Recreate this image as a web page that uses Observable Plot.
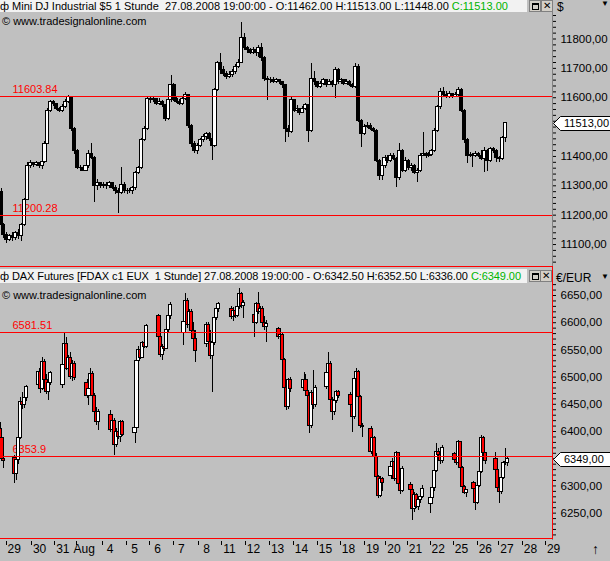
<!DOCTYPE html>
<html><head><meta charset="utf-8">
<script src="https://cdn.jsdelivr.net/npm/d3@7"></script>
<script src="https://cdn.jsdelivr.net/npm/@observablehq/plot@0.6"></script>
<style>
html,body{margin:0;padding:0;}
body{background:#c0c0c0;width:610px;height:561px;overflow:hidden;position:relative;font-family:"Liberation Sans",Arial,sans-serif;color:#000;}
.abs{position:absolute;}
.hdr{position:absolute;left:0;width:527px;background:#f2f2f2;font-size:11px;white-space:pre;overflow:hidden;}
.wm{position:absolute;left:2px;font-size:11px;white-space:pre;}
.btn{position:absolute;width:10px;height:10px;background:#d4d0c8;border:1px solid #808080;font-size:10px;line-height:10px;text-align:center;}
.sq{position:absolute;left:2px;top:2px;width:5px;height:4px;border:1px solid #000;border-top-width:2px;}
.tag{position:absolute;left:552px;width:58px;height:17px;overflow:hidden;}
</style></head>
<body>
<div id="topPlot" class="abs" style="left:0;top:0"></div>
<div id="botPlot" class="abs" style="left:0;top:268px"></div>

<!-- chart chrome -->
<div class="abs" style="left:552px;top:0;width:1px;height:540px;background:#808080"></div>
<div class="abs" style="left:-1px;top:266px;width:552px;height:271px;border:1px solid #ff0000;"></div>

<div class="hdr" style="top:0;height:12px;line-height:12px;">ф Mini DJ Industrial $5 1 Stunde  27.08.2008 19:00:00 - O:11462.00 H:11513.00 L:11448.00 <span style="color:#00b400">C:11513.00</span></div>
<div class="btn" style="left:529px;top:0"><div class="sq"></div></div>
<div class="btn" style="left:541px;top:0">✕</div>
<div class="wm" style="top:15px">© www.tradesignalonline.com</div>
<div class="abs" style="left:557px;top:0;font-size:12px">$</div>
<div class="abs" style="left:601px;top:0;font-size:8px;line-height:8px">▼</div>

<div class="hdr" style="top:269px;height:14px;line-height:14px;letter-spacing:-0.08px;">ф DAX Futures [FDAX c1 EUX  1 Stunde] 27.08.2008 19:00:00 - O:6342.50 H:6352.50 L:6336.00 <span style="color:#00b400">C:6349.00</span></div>
<div class="btn" style="left:529px;top:270px"><div class="sq"></div></div>
<div class="btn" style="left:540px;top:270px">✕</div>
<div class="wm" style="top:289px">© www.tradesignalonline.com</div>
<div class="abs" style="left:556px;top:271px;font-size:12px">€/EUR</div>
<div class="abs" style="left:601px;top:273px;font-size:8px;line-height:8px">▼</div>
<div class="abs" style="left:592px;top:541px;font-size:14px">↑</div>

<script>
// ---------- shared time axis (trading days, weekends removed) ----------
const dayLabels = ["29","30","31","Aug","4","5","6","7","8","11","12","13","14","15","18","19","20","21","22","25","26","27","28","29"];
const dayTickPos = [-0.01,1.07,2.06,2.97,4.08,5.12,6.10,7.12,8.19,9.17,10.19,11.22,12.24,13.26,14.24,15.27,16.18,17.10,18.07,19.06,20.08,21.00,22.00,22.99];
const xDomain = [-0.256, 23.284];

// ---------- Mini DJ Industrial (3-hour steps, open = previous close) ----------
const djFirstOpen = 11280;
const djStartT = -0.234;
const djStepT = 0.125;
const djClose = [
11165,11131,11114,11128,11121,11138,11128,11165,11250,11369,
11376,11372,11376,11366,11380,11444,11556,11587,11577,11563,
11556,11570,11587,11601,11495,11420,11362,11359,11352,11366,
11410,11396,11301,11308,11298,11304,11298,11308,11294,11284,
11277,11304,11284,11281,11284,11291,11345,11359,11455,11495,
11597,11591,11594,11580,11587,11574,11529,11591,11642,11594,
11587,11580,11597,11608,11505,11444,11420,11437,11455,11465,
11475,11461,11437,11625,11717,11693,11682,11672,11676,11686,
11706,11720,11802,11768,11761,11754,11761,11751,11771,11734,
11665,11659,11662,11655,11659,11652,11642,11495,11482,11591,
11556,11563,11549,11563,11574,11488,11665,11652,11638,11648,
11659,11645,11655,11642,11693,11652,11659,11648,11655,11645,
11638,11706,11522,11478,11502,11505,11495,11488,11386,11335,
11369,11396,11386,11403,11393,11325,11420,11352,11386,11359,
11369,11345,11352,11403,11410,11400,11406,11420,11488,11567,
11618,11608,11604,11614,11604,11611,11625,11556,11455,11400,
11406,11400,11410,11403,11393,11420,11386,11427,11420,11396,
11393,11462,11513];
const djHigh = [
11290,11170,11140,11135,11140,11145,11150,11170,11258,11380,
11385,11380,11382,11378,11385,11450,11565,11592,11592,11580,
11568,11578,11595,11608,11605,11500,11425,11368,11365,11372,
11420,11444,11400,11320,11312,11312,11310,11315,11312,11300,
11290,11362,11310,11290,11292,11298,11350,11366,11460,11502,
11605,11604,11602,11598,11598,11592,11578,11597,11676,11648,
11600,11595,11604,11618,11612,11510,11450,11445,11462,11475,
11482,11480,11478,11632,11725,11750,11705,11688,11688,11695,
11712,11730,11857,11818,11775,11768,11770,11765,11778,11785,
11740,11672,11670,11668,11665,11662,11656,11645,11505,11601,
11595,11572,11565,11570,11580,11578,11717,11690,11655,11655,
11665,11662,11662,11660,11703,11698,11666,11662,11662,11660,
11650,11717,11712,11525,11510,11515,11512,11500,11492,11390,
11375,11403,11402,11410,11410,11398,11444,11425,11395,11390,
11375,11372,11360,11410,11482,11415,11412,11425,11495,11575,
11630,11635,11620,11622,11615,11618,11635,11630,11560,11460,
11412,11410,11416,11412,11420,11430,11425,11432,11430,11425,
11400,11468,11513];
const djLow = [
11155,11120,11105,11110,11112,11115,11118,11110,11160,11250,
11360,11362,11365,11358,11355,11375,11440,11550,11570,11555,
11548,11550,11565,11580,11485,11405,11355,11350,11348,11350,
11360,11390,11243,11285,11290,11292,11288,11290,11286,11270,
11205,11270,11275,11272,11275,11270,11285,11340,11355,11450,
11490,11582,11585,11572,11575,11566,11520,11522,11585,11588,
11580,11574,11575,11590,11495,11430,11410,11405,11430,11448,
11455,11450,11386,11430,11620,11680,11672,11663,11665,11668,
11680,11698,11715,11760,11752,11746,11748,11742,11738,11725,
11655,11590,11650,11648,11648,11645,11630,11448,11465,11478,
11548,11550,11540,11545,11555,11448,11480,11640,11630,11632,
11640,11636,11640,11635,11597,11645,11650,11642,11644,11638,
11630,11630,11515,11431,11470,11495,11488,11480,11378,11318,
11318,11360,11376,11380,11385,11294,11318,11345,11345,11352,
11348,11338,11311,11345,11400,11392,11395,11400,11415,11482,
11560,11600,11598,11597,11597,11600,11605,11548,11445,11376,
11395,11362,11396,11395,11386,11345,11350,11380,11410,11380,
11378,11385,11448];
const djLevels = [11603.84, 11200.28];
const djLast = 11513;
const djYDomain = [11038.8, 11890.3];

// ---------- DAX Futures (2-hour steps within each session) ----------
const daxSessionStart = [-0.277,0.362,1.386,2.409,3.433,4.456,5.480,6.503,7.569,8.550,9.616,10.597,11.620,12.687,13.667,14.691,15.544,16.397,17.249,18.102,19.126,19.936,20.874];
const daxSessionBars = [3,7,7,7,7,7,7,7,7,7,7,7,7,7,7,7,7,7,7,7,7,7,7];
const daxStepT = 2/24;
const daxOpen = [
6405,6388,6350,
6352,6322,6348,6388,6455,6448,6462,
6485,6510,6478,6528,6495,6472,6490,
6485,6522,6560,6515,6535,6500,6525,
6490,6465,6478,6505,6465,6435,6418,
6430,6402,6420,6375,6400,6390,6417,
6398,6406,6530,6550,6536,6562,6555,
6612,6574,6540,6556,6552,6586,6612,
6582,6602,6640,6595,6620,6585,6570,
6560,6596,6565,6538,6562,6608,6626,
6625,6610,6622,6612,6628,6652,6630,
6615,6600,6635,6620,6625,6600,6592,
6588,6574,6578,6532,6480,6446,6494,
6480,6495,6474,6466,6410,6470,6448,
6482,6508,6525,6458,6435,6456,6472,
6468,6448,6426,6496,6510,6464,6410,
6405,6362,6388,6354,6316,6282,6312,
6318,6334,6344,6312,6360,6304,6290,
6302,6292,6258,6284,6262,6274,6280,
6266,6277,6297,6327,6362,6356,6345,
6358,6348,6342,6380,6333,6298,6287,
6305,6295,6268,6300,6326,6388,6360,
6350,6330,6296,6288,6315,6342,6342.5];
const daxHigh = [
6417,6392,6362,
6356,6352,6392,6462,6472,6466,6485,
6516,6518,6536,6532,6505,6500,6510,
6528,6580,6572,6540,6545,6530,6528,
6495,6482,6516,6510,6470,6445,6440,
6439,6425,6424,6405,6410,6420,6420,
6410,6535,6556,6555,6566,6568,6597,
6616,6578,6560,6568,6590,6618,6638,
6606,6654,6645,6625,6624,6600,6586,
6600,6600,6586,6566,6612,6630,6638,
6630,6628,6626,6632,6663,6656,6640,
6622,6638,6656,6630,6630,6612,6604,
6591,6582,6580,6535,6485,6498,6500,
6509,6504,6488,6470,6475,6512,6485,
6512,6545,6528,6462,6460,6476,6475,
6472,6452,6500,6516,6512,6466,6414,
6410,6392,6390,6360,6320,6318,6316,
6338,6350,6346,6364,6362,6318,6336,
6306,6296,6288,6286,6278,6284,6300,
6280,6300,6330,6378,6368,6360,6374,
6362,6352,6384,6382,6336,6300,6294,
6308,6298,6302,6330,6393,6390,6362,
6362,6332,6298,6318,6345,6369,6352.5];
const daxLow = [
6385,6345,6332,
6304,6310,6340,6385,6440,6442,6455,
6480,6470,6475,6490,6468,6457,6485,
6480,6510,6512,6505,6495,6492,6494,
6460,6448,6470,6460,6430,6412,6402,
6398,6395,6356,6370,6385,6380,6390,
6378,6400,6528,6532,6534,6552,6552,
6570,6536,6530,6548,6550,6582,6605,
6558,6598,6590,6585,6580,6565,6527,
6555,6560,6532,6472,6558,6604,6618,
6605,6602,6608,6610,6625,6626,6608,
6573,6596,6615,6600,6598,6586,6564,
6570,6560,6528,6476,6439,6440,6472,
6476,6470,6462,6396,6405,6440,6445,
6478,6505,6455,6420,6430,6452,6460,
6445,6398,6422,6470,6460,6406,6389,
6358,6356,6350,6312,6276,6278,6290,
6312,6326,6308,6308,6300,6285,6288,
6288,6236,6252,6258,6255,6268,6276,
6249,6272,6290,6325,6352,6340,6342,
6345,6338,6340,6330,6296,6284,6279,
6292,6255,6265,6298,6322,6358,6340,
6326,6294,6268,6284,6312,6338,6336];
const daxClose = [
6388,6350,6345,
6322,6348,6388,6455,6448,6462,6481,
6510,6478,6528,6495,6472,6490,6507,
6522,6560,6515,6535,6500,6525,6498,
6465,6478,6505,6465,6435,6418,6436,
6402,6420,6375,6400,6390,6417,6393,
6406,6530,6550,6536,6562,6555,6594,
6574,6540,6556,6552,6586,6612,6632,
6602,6640,6595,6620,6585,6570,6548,
6596,6565,6538,6562,6608,6626,6634,
6610,6622,6612,6628,6652,6630,6636,
6600,6635,6620,6625,6600,6592,6598,
6574,6578,6532,6480,6446,6494,6478,
6495,6474,6466,6410,6470,6448,6480,
6508,6525,6458,6435,6456,6472,6466,
6448,6426,6496,6510,6464,6410,6408,
6362,6388,6354,6316,6282,6312,6306,
6334,6344,6312,6360,6304,6290,6332,
6292,6258,6284,6262,6274,6280,6294,
6277,6297,6327,6362,6356,6345,6370,
6348,6342,6380,6333,6298,6287,6292,
6295,6268,6300,6326,6388,6360,6346,
6330,6296,6288,6315,6342,6344,6349];
const daxLevels = [6581.51, 6353.9];
const daxLast = 6349;
const daxYDomain = [6203.4, 6673.9];

// ---------- build tables ----------
const dj = djClose.map((c, i) => ({t: djStartT + i * djStepT, o: i ? djClose[i - 1] : djFirstOpen, h: djHigh[i], l: djLow[i], c}));
const dax = [];
{ let k = 0;
  daxSessionStart.forEach((s, si) => {
    for (let j = 0; j < daxSessionBars[si]; j++, k++)
      dax.push({t: s + j * daxStepT, o: daxOpen[k], h: daxHigh[k], l: daxLow[k], c: daxClose[k]});
  });
}

const fmt = d => d.toFixed(2).replace(".", ",");
const FONT = "Liberation Sans, Arial, sans-serif";
const hw = 0.066; // half candle width in days

// y-axis tick label, hidden where the current-price tag covers it
const yLabel = (step, last, span) => d => (d % step === 0 && Math.abs(d - last) > span ? fmt(d) : "");

// current-price tag, placed with the chart's own y scale
function priceTag(plot, value, panelTop) {
  const y = Math.round(plot.scale("y").apply(value)) + panelTop;
  const div = document.createElement("div");
  div.className = "tag";
  div.style.top = (y - 8) + "px";
  document.body.appendChild(div);
  const s = d3.select(div).append("svg").attr("width", 58).attr("height", 17);
  s.append("path")
    .attr("d", "M1.5,8.5 L8.5,1.5 L60,1.5 L60,15.5 L8.5,15.5 Z")
    .attr("fill", "white").attr("stroke", "black").attr("stroke-width", 1);
  s.append("text").attr("x", 12).attr("y", 8.5).attr("dy", "0.36em")
    .attr("font-size", "11px").attr("font-family", FONT).attr("fill", "black").text(fmt(value));
}

// ---------- top panel ----------
const topChart = Plot.plot({
  width: 610, height: 264,
  marginTop: 12, marginBottom: 2, marginLeft: 0, marginRight: 58,
  style: {background: "transparent", fontFamily: FONT, fontSize: "11.5px", color: "black", overflow: "visible"},
  color: {type: "identity"},
  x: {domain: xDomain, axis: null},
  y: {domain: djYDomain, axis: "right", ticks: d3.range(11040, 11891, 20), tickSize: 3, tickPadding: 5,
      tickFormat: yLabel(100, djLast, 30), label: null},
  marks: [
    Plot.text(djLevels, {frameAnchor: "left", y: d => d, text: d => String(d), dx: 12, dy: -7, fill: "red", textAnchor: "start", fontSize: 11}),
    Plot.ruleX(dj, {x: "t", y1: "l", y2: "h", stroke: "black", strokeWidth: 1, shapeRendering: "crispEdges"}),
    Plot.rect(dj, {x1: d => d.t - hw, x2: d => d.t + hw, y1: "o", y2: "c",
      fill: d => (d.c >= d.o ? "white" : "black"), stroke: "black", strokeWidth: 1, shapeRendering: "crispEdges"}),
    Plot.ruleY(djLevels, {stroke: "#ff0000", strokeWidth: 1, shapeRendering: "crispEdges"})
  ]
});
document.getElementById("topPlot").appendChild(topChart);
priceTag(topChart, djLast, 0);

// ---------- bottom panel ----------
const frameH = 293 - 14 - 23;
const botChart = Plot.plot({
  width: 610, height: 293,
  marginTop: 14, marginBottom: 23, marginLeft: 0, marginRight: 58,
  style: {background: "transparent", fontFamily: FONT, fontSize: "11.5px", color: "black", overflow: "visible"},
  color: {type: "identity"},
  x: {domain: xDomain, axis: null},
  y: {domain: daxYDomain, axis: "right", ticks: d3.range(6210, 6671, 10), tickSize: 3, tickPadding: 5,
      tickFormat: yLabel(50, daxLast, 16), label: null},
  marks: [
    Plot.text(daxLevels, {frameAnchor: "left", y: d => d, text: d => String(d), dx: 12, dy: -7, fill: "red", textAnchor: "start", fontSize: 11}),
    Plot.ruleX(dax, {x: "t", y1: "l", y2: "h", stroke: "black", strokeWidth: 1, shapeRendering: "crispEdges"}),
    Plot.rect(dax, {x1: d => d.t - hw, x2: d => d.t + hw, y1: "o", y2: "c",
      fill: d => (d.c >= d.o ? "white" : "#ff0000"), stroke: "black", strokeWidth: 1, shapeRendering: "crispEdges"}),
    Plot.ruleY(daxLevels, {stroke: "#ff0000", strokeWidth: 1, shapeRendering: "crispEdges"}),
    // date axis below the lower panel
    Plot.ruleX(dayTickPos, {x: d => d, insetTop: frameH - 4, dy: 7, stroke: "black", shapeRendering: "crispEdges"}),
    Plot.text(dayTickPos, {x: d => d, text: (d, i) => dayLabels[i], frameAnchor: "bottom", dy: 14, dx: 8, fontSize: 12})
  ]
});
document.getElementById("botPlot").appendChild(botChart);
priceTag(botChart, daxLast, 268);
</script>
</body></html>
